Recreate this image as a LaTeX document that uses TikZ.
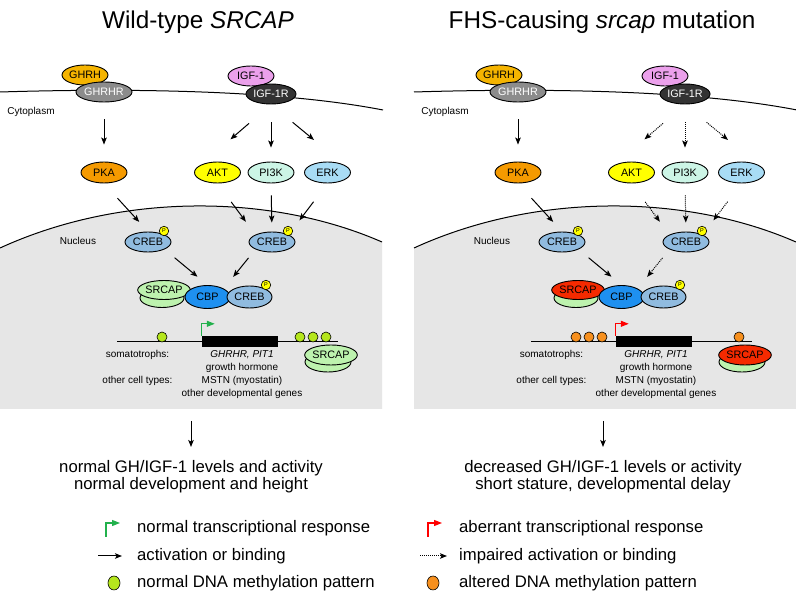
\documentclass[tikz,border=0pt]{standalone}
\usepackage{fontspec}
\setmainfont{Liberation Sans}
\usetikzlibrary{shapes.geometric,arrows.meta}
\definecolor{ghrhcol}{HTML}{F5B400}
\definecolor{ghrhrcol}{HTML}{8C8C8C}
\definecolor{igfcol}{HTML}{EBA0EB}
\definecolor{igfrcol}{HTML}{333333}
\definecolor{pkacol}{HTML}{F59A00}
\definecolor{aktcol}{HTML}{FFFF00}
\definecolor{pi3kcol}{HTML}{CCF5E6}
\definecolor{erkcol}{HTML}{A8DCF5}
\definecolor{crebcol}{HTML}{90BBDF}
\definecolor{cbpcol}{HTML}{1E90F0}
\definecolor{srcapgreen}{HTML}{BDF2AE}
\definecolor{srcapred}{HTML}{F52A00}
\definecolor{methgreen}{HTML}{B5E61D}
\definecolor{methorange}{HTML}{F7901E}
\definecolor{nucgray}{HTML}{E6E6E6}
\definecolor{flaggreen}{HTML}{22B14C}
\definecolor{flagred}{HTML}{FF0000}
\tikzset{
 prot/.style={ellipse, draw=black, line width=0.9pt, minimum width=46pt, minimum height=20pt, inner sep=0pt, font=\fontsize{10.8}{12}\selectfont},
 pho/.style={circle, draw=black, line width=0.6pt, fill=aktcol, minimum size=9.5pt, inner sep=0pt, font=\fontsize{5.5}{6}\selectfont},
 meth/.style={circle, draw=black, line width=0.6pt, minimum size=10pt, inner sep=0pt},
 act/.style={line width=1pt, -{Stealth[length=7pt,width=5.5pt,inset=1.5pt]}},
 imp/.style={act, densely dotted},
 small/.style={inner sep=0pt, font=\fontsize{10}{12}\selectfont},
 big/.style={inner sep=0pt, align=center, font=\fontsize{16.7}{17}\selectfont},
 leg/.style={inner sep=0pt, anchor=west, font=\fontsize{16.7}{17}\selectfont},
 ttl/.style={inner sep=0pt, font=\fontsize{24.3}{29}\selectfont},
}
\newcommand\cellpanel{%
 \fill[nucgray] (0,248) .. controls (120,193) and (270,193) .. (382,242) -- (382,409) -- (0,409) -- cycle;
 \draw[line width=1pt] (0,248) .. controls (120,193) and (270,193) .. (382,242);
 \draw[line width=1pt] (0,92) .. controls (130,88) and (280,90) .. (383,110);
 \node[prot, fill=ghrhcol] (ghrh) at (85,75) {GHRH};
 \node[prot, fill=ghrhrcol, text=white] (ghrhr) at (104,92) {GHRHR};
 \node[prot, fill=igfcol] (igf) at (251,76) {IGF-1};
 \node[prot, fill=igfrcol, text=white] (igfr) at (271,94) {IGF-1R};
 \node[small] (cyto) at (31,112) {Cytoplasm};
 \node[small] (nuc) at (78,241) {Nucleus};
 \node[prot, fill=pkacol, minimum height=21pt] (pka) at (104,172.5) {PKA};
 \node[prot, fill=aktcol, minimum height=21pt] (akt) at (217.5,172.5) {AKT};
 \node[prot, fill=pi3kcol, minimum height=21pt] (pi3k) at (271,172.5) {PI3K};
 \node[prot, fill=erkcol, minimum height=21pt] (erk) at (327.5,172.5) {ERK};
 \node[prot, fill=crebcol] (creb1) at (148,242) {CREB};
 \node[pho] (p1) at (164,231) {P};
 \node[prot, fill=crebcol] (creb2) at (272,242) {CREB};
 \node[pho] (p2) at (288,231) {P};
 \node[prot, fill=srcapgreen, minimum width=44pt, minimum height=19pt] (sback) at (162,298) {};
 \node[prot, srcapfill, minimum width=44pt, minimum height=19pt] (sfront) at (164,290) {SRCAP};
 \node[prot, fill=cbpcol, minimum width=45pt, minimum height=23pt] (cbp) at (207.5,297) {CBP};
 \node[prot, fill=crebcol, minimum width=45pt, minimum height=22pt] (creb3) at (249.5,297) {CREB};
 \node[pho] (p3) at (266,285) {P};
 \draw[act, shorten <=17pt, shorten >=17pt] (ghrhr.south) -- (pka.north);
 \draw[igfarr, shorten <=29pt, shorten >=39pt] (igfr.south) -- (akt.north west);
 \draw[igfarr, shorten <=18pt, shorten >=14pt] (igfr.south) -- (pi3k.north);
 \draw[igfarr, shorten <=28pt, shorten >=39pt] (igfr.south) -- (erk.north east);
 \draw[act, shorten <=20pt, shorten >=13pt] (pka.south) -- (creb1.north);
 \draw[igfarr, shorten <=23pt, shorten >=16pt] (akt.south) -- (creb2.north west);
 \draw[igfarr, shorten <=12pt, shorten >=9pt] (pi3k.south) -- (creb2.north);
 \draw[igfarr, shorten <=23pt, shorten >=18pt] (erk.south) -- (creb2.north east);
 \draw[act, shorten <=13pt, shorten >=13pt] (creb1.south east) -- (cbp.north);
 \draw[igfarr, shorten <=11pt, shorten >=15pt] (creb2.south west) -- (cbp.north east);
 \coordinate (dnaL) at (117,342);
 \coordinate (dnaR) at (338,342);
 \draw[line width=1pt] (dnaL) -- (dnaR);
 \node[fill=black, minimum width=76pt, minimum height=11pt, inner sep=0pt] (gene) at (240,341.5) {};
 \draw[flagcol, line width=1.2pt, -{Triangle[length=8pt,width=6pt]}] (gene.north west) |- ++(13,-12);
 \node[prot, fill=srcapgreen] (rback) at (328,362) {};
 \node[prot, srcapfill] (rfront) at (331,355) {SRCAP};
 \node[small] (som) at (137.5,355) {somatotrophs:};
 \node[small] (g1) at (242,355) {\textit{GHRHR, PIT1}};
 \node[small] (g2) at (242,368) {growth hormone};
 \node[small] (oct) at (137.5,381) {other cell types:};
 \node[small] (g3) at (242,381) {MSTN (myostatin)};
 \node[small] (g4) at (242,394) {other developmental genes};
}
\begin{document}
\begin{tikzpicture}[x=1pt,y=-1pt]
\useasboundingbox[fill=white] (0,0) rectangle (796,593);
\node[ttl] (t1) at (198,22) {Wild-type \textit{SRCAP}};
\node[ttl] (t2) at (602,22) {FHS-causing \textit{srcap} mutation};
\begin{scope}[name prefix=L-, igfarr/.style={act}, srcapfill/.style={fill=srcapgreen}, flagcol/.style={color=flaggreen}]
 \cellpanel
 \node[meth, fill=methgreen] (m1) at (162,337) {};
 \node[meth, fill=methgreen] (m2) at (300,337) {};
 \node[meth, fill=methgreen] (m3) at (313,337) {};
 \node[meth, fill=methgreen] (m4) at (326,337) {};
\end{scope}
\begin{scope}[xshift=414pt, name prefix=R-, igfarr/.style={imp}, srcapfill/.style={fill=srcapred}, flagcol/.style={color=flagred}]
 \cellpanel
 \node[meth, fill=methorange] (m1) at (162,337) {};
 \node[meth, fill=methorange] (m2) at (175,337) {};
 \node[meth, fill=methorange] (m3) at (188,337) {};
 \node[meth, fill=methorange] (m4) at (325,337) {};
\end{scope}
% outcomes
\coordinate (la0) at (191,421);
\coordinate (la1) at (191,447);
\draw[act] (la0) -- (la1);
\node[big] (out1) at (191,476.5) {normal GH/IGF-1 levels and activity\\normal development and height};
\coordinate (ra0) at (603,421);
\coordinate (ra1) at (603,447);
\draw[act] (ra0) -- (ra1);
\node[big] (out2) at (603,476.5) {decreased GH/IGF-1 levels or activity\\short stature, developmental delay};
% legend left
\coordinate (lf) at (106,537);
\draw[flaggreen, line width=1.2pt, -{Triangle[length=8pt,width=6pt]}] (lf) |- ++(14,-14);
\node[leg] (lt1) at (137,528) {normal transcriptional response};
\coordinate (lb) at (98,556);
\node[leg] (lt2) at (137,556) {activation or binding};
\draw[act, shorten >=15pt] (lb) -- (lt2.west);
\node[meth, ellipse, fill=methgreen, minimum width=12pt, minimum height=14pt] (lc) at (114,583) {};
\node[leg] (lt3) at (137,583) {normal DNA methylation pattern};
% legend right
\coordinate (rf) at (428,537);
\draw[flagred, line width=1.2pt, -{Triangle[length=8pt,width=6pt]}] (rf) |- ++(14,-14);
\node[leg] (rt1) at (459,528) {aberrant transcriptional response};
\coordinate (rb) at (420,556);
\node[leg] (rt2) at (459,556) {impaired activation or binding};
\draw[imp, shorten >=12pt] (rb) -- (rt2.west);
\node[meth, ellipse, fill=methorange, minimum width=12pt, minimum height=14pt] (rc) at (433,583) {};
\node[leg] (rt3) at (459,583) {altered DNA methylation pattern};
\end{tikzpicture}
\end{document}
